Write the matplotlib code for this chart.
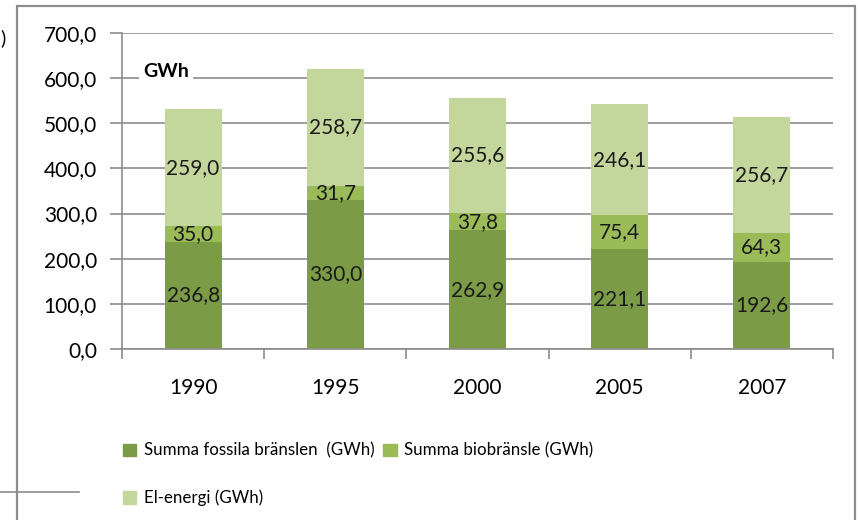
import matplotlib.pyplot as plt
import matplotlib.patches as mpatches
import matplotlib.lines as mlines
import numpy as np

years = ["1990", "1995", "2000", "2005", "2007"]
fossil = [236.8, 330.0, 262.9, 221.1, 192.6]
bio = [35.0, 31.7, 37.8, 75.4, 64.3]
el = [259.0, 258.7, 255.6, 246.1, 256.7]

labels = ["Summa fossila bränslen  (GWh)", "Summa biobränsle (GWh)", "El-energi (GWh)"]
colors = ["#7B9B47", "#9BBB59", "#C3D69B"]

plt.rcParams["font.family"] = ["Lato", "DejaVu Sans"]
fs = 15

fig = plt.figure(figsize=(8.58, 5.2), dpi=100)
ax = fig.add_axes([0.1422, 0.3288, 0.8287, 0.6077])

x = np.arange(len(years))
w = 0.40
bottom = np.zeros(len(years))
for vals, col in zip([fossil, bio, el], colors):
    vals = np.array(vals)
    ax.bar(x, vals, w, bottom=bottom, color=col, zorder=2)
    for xi, b, v in zip(x, bottom, vals):
        ax.text(xi, b + v / 2, f"{v:.1f}".replace(".", ","), ha="center", va="center",
                fontsize=fs, color="#1a1a1a", zorder=3)
    bottom = bottom + vals

ax.set_xlim(-0.5, len(years) - 0.5)
ax.set_ylim(0, 700)
ax.set_yticks(np.arange(0, 701, 100))
ax.set_yticklabels([f"{v:.1f}".replace(".", ",") for v in np.arange(0, 701, 100)], fontsize=fs)
ax.yaxis.grid(True, color="#8c8c8c", linewidth=1.2, zorder=0)
ax.set_axisbelow(True)

ax.set_xticks(x)
ax.set_xticklabels(years, fontsize=fs)
ax.set_xticks(np.arange(-0.5, len(years)), minor=True)
ax.tick_params(axis="x", which="major", length=0, pad=21)
ax.tick_params(axis="x", which="minor", length=7, color="#8c8c8c", width=1.2)
ax.tick_params(axis="y", length=9, color="#8c8c8c", width=1.2, pad=9)

for s in ["top", "right"]:
    ax.spines[s].set_visible(False)
for s in ["left", "bottom"]:
    ax.spines[s].set_color("#8c8c8c")
    ax.spines[s].set_linewidth(1.2)

ax.text(0.03, 0.877, "GWh", transform=ax.transAxes, fontsize=14, fontweight="bold",
        va="center", ha="left", zorder=4,
        bbox=dict(facecolor="white", edgecolor="none", pad=3))

# outer chart frame
fig.patches.append(mpatches.Rectangle((17 / 858, -0.05), (855 - 17) / 858, 1.05 - 6 / 520,
                                      transform=fig.transFigure, fill=False,
                                      edgecolor="#8c8c8c", linewidth=1.6))
fig.lines.append(mlines.Line2D([0, 79 / 858], [1 - 492 / 520, 1 - 492 / 520],
                               transform=fig.transFigure, color="#8c8c8c", linewidth=1.2))
fig.text(0.003, 1 - 38 / 520, ")", fontsize=14, va="center", ha="center")

handles = [mpatches.Patch(color=c) for c in colors]
order = [0, 2, 1]
fig.legend([handles[i] for i in order], [labels[i] for i in order], ncol=2,
           loc="upper left", bbox_to_anchor=(116 / 858, 1 - 436 / 520), frameon=False,
           fontsize=12.2, handlelength=0.8, handleheight=0.8, handletextpad=0.45,
           columnspacing=0.5, labelspacing=1.8, borderaxespad=0)

fig.savefig("out.png", dpi=100)
